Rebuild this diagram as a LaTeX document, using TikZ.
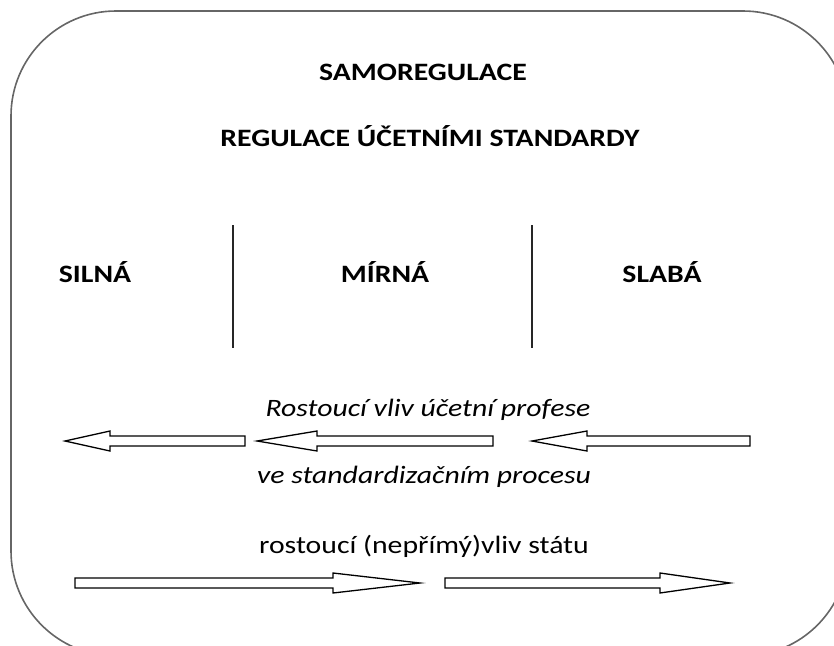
\documentclass[tikz,border=0pt]{standalone}
\usepackage{fontspec}
\setmainfont{Carlito}[FakeStretch=1.19]
\begin{document}
\begin{tikzpicture}[x=1pt,y=-1pt,
  frame/.style={draw=black!60, line width=1.6pt, rounded corners=105pt},
  divider/.style={draw=black!85, line width=1.5pt},
  fatarrow/.style={draw=black, line width=1.3pt, fill=white, line join=miter},
  title/.style={font=\fontsize{25}{29}\selectfont\bfseries, inner sep=0pt, anchor=center},
  label/.style={font=\fontsize{25}{29}\selectfont\itshape, inner sep=0pt, anchor=center},
  plain/.style={font=\fontsize{25}{29}\selectfont, inner sep=0pt, anchor=center}]
\useasboundingbox (0,0) rectangle (834,645);
\begin{scope}
\clip (0,0) rectangle (834,645);
\draw[frame] (11,11) rectangle (848,656);
\end{scope}
% titles
\node[title] (t1) at (423,72) {SAMOREGULACE};
\node[title] (t2) at (430,136) {REGULACE ÚČETNÍMI STANDARDY};
% columns
\node[title] (c1) at (95,272) {SILNÁ};
\node[title] (c2) at (385,272) {MÍRNÁ};
\node[title] (c3) at (662,272) {SLABÁ};
\draw[divider] (233,225) -- (233,348);
\draw[divider] (532,225) -- (532,348);
% texts
\node[label] (l1) at (428,410) {Rostoucí vliv účetní profese};
\node[label] (l2) at (424,477) {ve standardizačním procesu};
\node[plain] (l3) at (424,546) {rostoucí (nepřímý)vliv státu};
% left arrows (row y=441)
\draw[fatarrow] (65,441) -- (110,431) -- (110,436) -- (245,436) -- (245,446) -- (110,446) -- (110,451) -- cycle;
\draw[fatarrow] (257,441) -- (317,431) -- (317,436) -- (493,436) -- (493,446) -- (317,446) -- (317,451) -- cycle;
\draw[fatarrow] (532,441) -- (587,431) -- (587,436) -- (750,436) -- (750,446) -- (587,446) -- (587,451) -- cycle;
% right arrows (row y=583)
\draw[fatarrow] (420,583) -- (333,573) -- (333,578) -- (75,578) -- (75,588) -- (333,588) -- (333,593) -- cycle;
\draw[fatarrow] (730,583) -- (660,573) -- (660,578) -- (445,578) -- (445,588) -- (660,588) -- (660,593) -- cycle;
\end{tikzpicture}
\end{document}
